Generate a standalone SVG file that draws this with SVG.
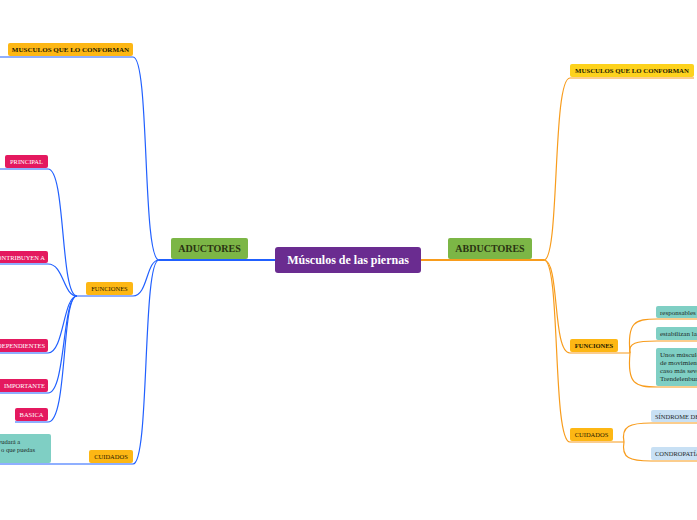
<svg xmlns="http://www.w3.org/2000/svg" width="697" height="520" viewBox="0 0 697 520">
<style>
text{font-family:"Liberation Serif","DejaVu Serif",serif;}
.blue{fill:none;stroke:#2160ff;stroke-width:1.2;}
.blueM{fill:none;stroke:#2160ff;stroke-width:2;}
.or{fill:none;stroke:#f89c1c;stroke-width:1.2;}
.orM{fill:none;stroke:#f89c1c;stroke-width:2;}
.lab{fill:#fdb714;}
.labY{fill:#fdd21c;}
.pink{fill:#e4195f;}
.teal{fill:#7fcfc4;}
.lblue{fill:#c8e0f4;}
.t7{font-size:6.5px;fill:#2b2100;text-anchor:middle;}
.tb{font-size:7px;font-weight:bold;fill:#1e1a00;text-anchor:middle;}
.tw{font-size:6.5px;fill:#ffffff;text-anchor:middle;}
.tt{font-size:7px;fill:#1c2a28;}
</style>
<rect width="697" height="520" fill="#ffffff"/>
<g id="connectors">
  <!-- central to mains -->
  <path class="blueM" d="M275,260 L159,260"/>
  <path class="orM" d="M421,260 L544,260"/>
  <!-- left branches -->
  <path class="blue" d="M159,260 C142,260 150,57 133,57 L0,57"/>
  <path class="blue" d="M159,260 C146,260 148,296 133,296 L77,296"/>
  <path class="blue" d="M159,260 C142,260 150,464 133,464 L0,464"/>
  <path class="blue" d="M77,296 C60,296 66,169 48,169 L0,169"/>
  <path class="blue" d="M77,296 C63,296 64,264 48,264 L0,264"/>
  <path class="blue" d="M77,296 C63,296 64,353 48,353 L0,353"/>
  <path class="blue" d="M77,296 C62,296 66,393 48,393 L0,393"/>
  <path class="blue" d="M77,296 C61,296 68,422 48,422 L15,422"/>
  <!-- right branches -->
  <path class="or" d="M544,260 C560,260 552,78 570,78 L694,78"/>
  <path class="or" d="M544,260 C560,260 552,353 570,353 L630,353"/>
  <path class="or" d="M544,260 C561,260 552,442 570,442 L624,442"/>
  <path class="or" d="M630,353 C627,322 635,319 657,319 L697,319"/>
  <path class="or" d="M630,353 C628,343 636,341 657,341 L697,341"/>
  <path class="or" d="M630,353 C627,384 635,387 657,387 L697,387"/>
  <path class="or" d="M624,442 C621,426 630,423 651,423 L697,423"/>
  <path class="or" d="M624,442 C621,458 630,461 651,461 L697,461"/>
</g>
<g id="central">
  <rect x="275" y="247" width="146" height="26" rx="3" fill="#6a2c90"/>
  <text x="348" y="264" style="font-size:12px;font-weight:bold;fill:#ffffff;text-anchor:middle;">Músculos de las piernas</text>
</g>
<g id="aductores">
  <rect x="171" y="238" width="77" height="21" rx="2" fill="#7cb646"/>
  <text x="209.5" y="252" style="font-size:10px;font-weight:bold;fill:#2a3312;text-anchor:middle;">ADUCTORES</text>
</g>
<g id="abductores">
  <rect x="448" y="238" width="84" height="21" rx="2" fill="#7cb646"/>
  <text x="490" y="252" style="font-size:10px;font-weight:bold;fill:#2a3312;text-anchor:middle;">ABDUCTORES</text>
</g>
<g id="l-musculos">
  <rect class="lab" x="8" y="43" width="125" height="13" rx="2"/>
  <text class="tb" x="70.5" y="52">MUSCULOS QUE LO CONFORMAN</text>
</g>
<g id="l-funciones">
  <rect class="lab" x="86" y="282" width="47" height="13" rx="2"/>
  <text class="t7" x="109.5" y="291">FUNCIONES</text>
</g>
<g id="l-cuidados">
  <rect class="lab" x="89" y="450" width="44" height="13" rx="2"/>
  <text class="t7" x="111" y="459">CUIDADOS</text>
</g>
<g id="l-principal">
  <rect class="pink" x="5" y="155" width="43" height="13" rx="2"/>
  <text class="tw" x="26.5" y="164">PRINCIPAL</text>
</g>
<g id="l-contribuyen">
  <rect class="pink" x="-20" y="251" width="68" height="12" rx="2"/>
  <text class="tw" x="45" y="259.5" style="text-anchor:end;">CONTRIBUYEN A</text>
</g>
<g id="l-dependientes">
  <rect class="pink" x="-20" y="339" width="68" height="13" rx="2"/>
  <text class="tw" x="45" y="348" style="text-anchor:end;">DEPENDIENTES</text>
</g>
<g id="l-importante">
  <rect class="pink" x="-20" y="379" width="68" height="13" rx="2"/>
  <text class="tw" x="45" y="388" style="text-anchor:end;">IMPORTANTE</text>
</g>
<g id="l-basica">
  <rect class="pink" x="15" y="408" width="33" height="13" rx="2"/>
  <text class="tw" x="31.5" y="417">BASICA</text>
</g>
<g id="l-teal">
  <rect class="teal" x="-20" y="434" width="71" height="29" rx="2"/>
  <text class="tt" x="-2" y="444" style="font-size:6.5px;">yudará a</text>
  <text class="tt" x="1" y="452" style="font-size:6.5px;">o que puedas</text>
</g>
<g id="r-musculos">
  <rect class="labY" x="570" y="64" width="124" height="13" rx="2"/>
  <text class="tb" x="632" y="73" style="font-size:6.8px;">MUSCULOS QUE LO CONFORMAN</text>
</g>
<g id="r-funciones">
  <rect class="lab" x="570" y="339" width="48" height="13" rx="2"/>
  <text class="tb" x="594" y="348" style="font-size:6.5px;font-weight:bold;">FUNCIONES</text>
</g>
<g id="r-cuidados">
  <rect class="lab" x="570" y="428" width="43" height="13" rx="2"/>
  <text class="t7" x="591.5" y="437">CUIDADOS</text>
</g>
<g id="r-responsables">
  <rect class="teal" x="656" y="306" width="50" height="12" rx="2"/>
  <text class="tt" x="660" y="314.5">responsables</text>
</g>
<g id="r-estabilizan">
  <rect class="teal" x="656" y="327" width="50" height="13" rx="2"/>
  <text class="tt" x="660" y="336">estabilizan la</text>
</g>
<g id="r-unos">
  <rect class="teal" x="656" y="348" width="50" height="38" rx="2"/>
  <text class="tt" x="660" y="357">Unos músculos</text>
  <text class="tt" x="660" y="365">de movimiento</text>
  <text class="tt" x="660" y="373">caso más severo</text>
  <text class="tt" x="660" y="381">Trendelenburg</text>
</g>
<g id="r-sindrome">
  <rect class="lblue" x="651" y="410" width="50" height="12" rx="2"/>
  <text class="tt" x="655" y="418.5" style="font-size:6.5px;">SÍNDROME DE</text>
</g>
<g id="r-condropatia">
  <rect class="lblue" x="651" y="447" width="50" height="13" rx="2"/>
  <text class="tt" x="655" y="456" style="font-size:6.5px;">CONDROPATÍA</text>
</g>
</svg>
